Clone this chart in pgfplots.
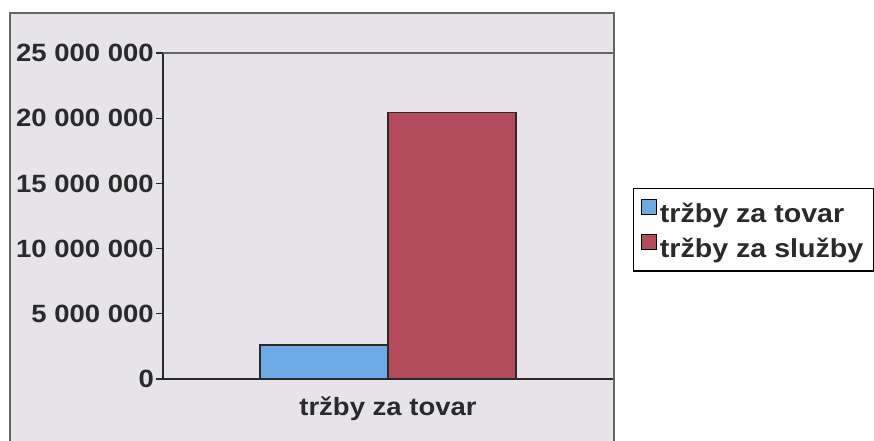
\documentclass[border=0pt]{standalone}
\usepackage{fontspec}
\setmainfont{Liberation Sans}[FakeStretch=1.1]
\usepackage{pgfplots}
\pgfplotsset{compat=1.18}
\definecolor{bgc}{HTML}{E7E4E9}
\definecolor{bblue}{HTML}{6EAAE6}
\definecolor{bred}{HTML}{B34B5B}
\definecolor{txt}{HTML}{2A2A2A}
\begin{document}
\begin{tikzpicture}[x=1pt,y=1pt]
\path[use as bounding box] (0,0) rectangle (874,-441);
\begin{scope}
\clip (0,0) rectangle (874,-441);
\filldraw[fill=bgc, draw=gray!80!black, line width=1.2pt] (10,-13) rectangle (614,-470);
\begin{axis}[
  at={(163pt,-379pt)}, anchor=south west,
  width=450pt, height=326pt, scale only axis,
  xmin=-1, xmax=1, ymin=0, ymax=25000000,
  ybar=0pt, bar width=128pt,
  axis x line*=bottom, axis y line*=left,
  axis line style={txt, line width=1.3pt},
  ytick={0,5000000,10000000,15000000,20000000,25000000},
  yticklabels={0,5 000 000,10 000 000,15 000 000,20 000 000,25 000 000},
  xtick={0}, xticklabels={tržby za tovar},
  x tick style={draw=none},
  y tick style={txt, line width=1.3pt},
  tick align=outside, major tick length=7pt,
  ticklabel style={font=\fontsize{25}{30}\selectfont\bfseries, text=txt, inner sep=2pt},
  xticklabel style={yshift=-9pt},
  scaled y ticks=false,
  legend style={at={(1.0444,0.586)}, anchor=north west, draw=black, line width=1.5pt,
    fill=white, font=\fontsize{26}{30}\selectfont\bfseries, text=txt,
    inner xsep=7pt, inner ysep=10pt, row sep=8pt,
    nodes={inner xsep=3pt}},
  legend cell align=left,
  legend image code/.code={\draw[#1, draw=black, line width=1.2pt] (0pt,-1pt) rectangle (15pt,14pt);},
  after end axis/.code={\draw[gray!80!black, line width=1.2pt] (rel axis cs:0,1) -- (rel axis cs:1,1);},
]
\addplot[fill=bblue, draw=txt, line width=1.3pt] coordinates {(0,2600000)};
\addplot[fill=bred, draw=txt, line width=1.3pt] coordinates {(0,20450000)};
\legend{tržby za tovar, tržby za služby}
\end{axis}
\end{scope}
\end{tikzpicture}
\end{document}
